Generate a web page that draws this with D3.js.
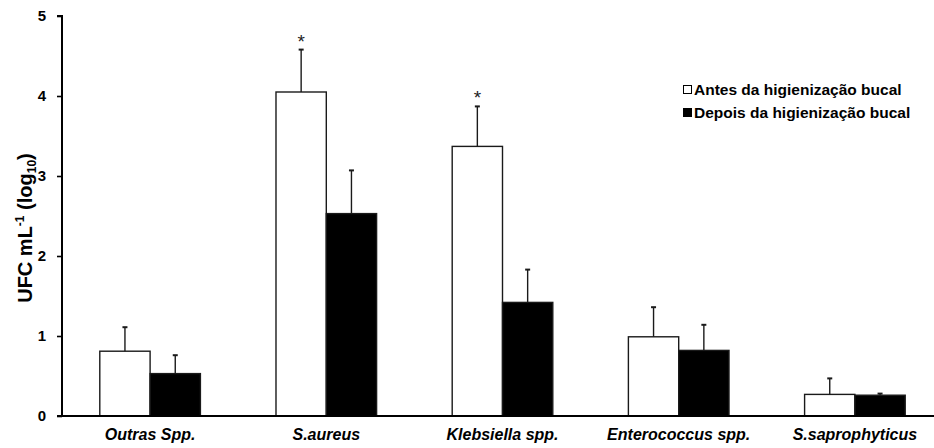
<!DOCTYPE html>
<html>
<head>
<meta charset="utf-8">
<script src="https://cdn.jsdelivr.net/npm/d3@7"></script>
<style>
  html, body { margin: 0; padding: 0; background: #fff; }
  svg { display: block; font-family: "Liberation Sans", Arial, sans-serif; }
</style>
</head>
<body>
<svg id="chart" width="934" height="448"></svg>
<script>
// Bacterial counts (log10 CFU/mL) before and after oral hygiene
const categories = ["Outras Spp.", "S.aureus", "Klebsiella spp.", "Enterococcus spp.", "S.saprophyticus"];
const seriesNames = ["Antes da higienização bucal", "Depois da higienização bucal"];
const antes = [0.81, 4.05, 3.37, 0.99, 0.27];
const antesErr = [0.30, 0.53, 0.50, 0.37, 0.20];
const depois = [0.53, 2.53, 1.42, 0.82, 0.26];
const depoisErr = [0.23, 0.54, 0.41, 0.32, 0.02];
const significant = [false, true, true, false, false];
const yTicks = [0, 1, 2, 3, 4, 5];

const svg = d3.select("#chart");
const margin = { left: 62, top: 16, bottom: 416 };

const x0 = d3.scaleBand()
  .domain(categories)
  .range([margin.left, 943])
  .paddingInner(0.429)
  .paddingOuter(0.2145);

const x1 = d3.scaleBand()
  .domain([0, 1])
  .range([0, x0.bandwidth()]);

const y = d3.scaleLinear().domain([0, 5]).range([margin.bottom, margin.top]);

const fills = ["#ffffff", "#000000"];
const values = [antes, depois];
const errors = [antesErr, depoisErr];

const rows = [];
categories.forEach((c, i) => {
  [0, 1].forEach(s => rows.push({ cat: c, s, v: values[s][i], e: errors[s][i] }));
});

// bars
svg.append("g").selectAll("rect")
  .data(rows)
  .join("rect")
  .attr("x", d => x0(d.cat) + x1(d.s))
  .attr("y", d => y(d.v))
  .attr("width", x1.bandwidth())
  .attr("height", d => y(0) - y(d.v))
  .attr("fill", d => fills[d.s])
  .attr("stroke", "#1a1a1a")
  .attr("stroke-width", 1.4);

// upper error bars
const eg = svg.append("g").attr("stroke", "#1a1a1a");
eg.selectAll("line.stem")
  .data(rows)
  .join("line")
  .attr("class", "stem")
  .attr("x1", d => x0(d.cat) + x1(d.s) + x1.bandwidth() / 2)
  .attr("x2", d => x0(d.cat) + x1(d.s) + x1.bandwidth() / 2)
  .attr("y1", d => y(d.v))
  .attr("y2", d => y(d.v + d.e))
  .attr("stroke-width", 1.4);
eg.selectAll("line.cap")
  .data(rows)
  .join("line")
  .attr("class", "cap")
  .attr("x1", d => x0(d.cat) + x1(d.s) + x1.bandwidth() / 2 - 2.5)
  .attr("x2", d => x0(d.cat) + x1(d.s) + x1.bandwidth() / 2 + 2.5)
  .attr("y1", d => y(d.v + d.e))
  .attr("y2", d => y(d.v + d.e))
  .attr("stroke-width", 2);

// significance markers
svg.append("g").selectAll("text")
  .data(rows.filter(d => d.s === 0 && significant[categories.indexOf(d.cat)]))
  .join("text")
  .attr("x", d => x0(d.cat) + x1(0) + x1.bandwidth() / 2)
  .attr("y", d => y(d.v + d.e) - 2)
  .attr("text-anchor", "middle")
  .attr("font-size", 19)
  .attr("fill", "#222")
  .text("*");

// y axis
const yAxis = svg.append("g")
  .attr("transform", `translate(${margin.left},0)`)
  .call(d3.axisLeft(y).tickValues(yTicks).tickSize(5).tickPadding(11).tickFormat(d3.format("d")));
yAxis.select(".domain").attr("d", `M-5,${y(5)}H0V${y(0)}`).attr("stroke", "#000").attr("stroke-width", 2);
yAxis.selectAll(".tick line").attr("stroke", "#000").attr("stroke-width", 1.6);
yAxis.selectAll(".tick text")
  .attr("font-size", 15).attr("font-weight", "bold").attr("fill", "#000")
  .attr("font-family", "Liberation Sans, Arial, sans-serif");

// x axis
const xAxis = svg.append("g")
  .attr("transform", `translate(0,${margin.bottom})`)
  .call(d3.axisBottom(x0).tickSize(0).tickPadding(13));
xAxis.select(".domain").attr("d", `M${margin.left - 5},0H943`).attr("stroke", "#000").attr("stroke-width", 2);
xAxis.selectAll(".tick text")
  .attr("font-size", 16).attr("font-weight", "bold").attr("font-style", "italic").attr("fill", "#000")
  .attr("font-family", "Liberation Sans, Arial, sans-serif");

// y axis title
const yTitle = svg.append("text")
  .attr("transform", `translate(32,228) rotate(-90)`)
  .attr("text-anchor", "middle")
  .attr("font-size", 20)
  .attr("font-weight", "bold")
  .attr("fill", "#000");
yTitle.append("tspan").text("UFC mL");
yTitle.append("tspan").attr("font-size", 12).attr("dy", -8).text("-1");
yTitle.append("tspan").attr("dy", 8).text(" (log");
yTitle.append("tspan").attr("font-size", 12).attr("dy", 4).text("10");
yTitle.append("tspan").attr("dy", -4).text(")");

// legend
const legend = svg.append("g").attr("transform", "translate(683,85)");
seriesNames.forEach((name, i) => {
  const g = legend.append("g").attr("transform", `translate(0,${i * 23})`);
  g.append("rect")
    .attr("x", 0.5).attr("y", 0.5).attr("width", 8).attr("height", 8)
    .attr("fill", fills[i]).attr("stroke", "#000").attr("stroke-width", 1);
  g.append("text")
    .attr("x", 11).attr("y", 9.5)
    .attr("font-size", 15.5).attr("font-weight", "bold").attr("fill", "#000")
    .text(name);
});
</script>
</body>
</html>
